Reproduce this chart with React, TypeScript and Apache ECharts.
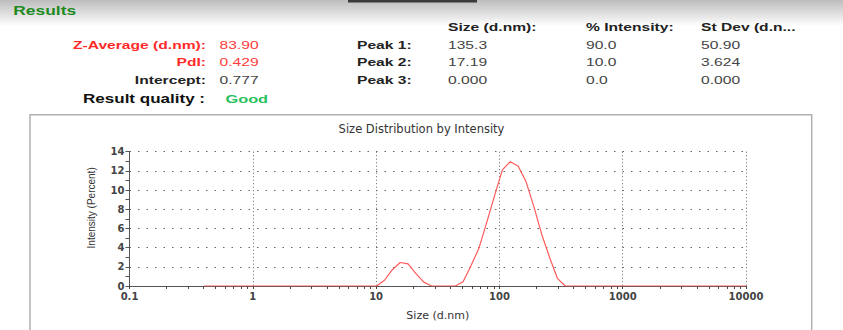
import React, { useEffect, useRef } from "react";
import * as echarts from "echarts";

// ---- Data ----
const sizes = [
  0.4, 0.4632, 0.5365, 0.6213, 0.7195, 0.8332, 0.9649, 1.117, 1.294, 1.499,
  1.736, 2.01, 2.328, 2.696, 3.122, 3.615, 4.187, 4.849, 5.615, 6.503,
  7.531, 8.721, 10.1, 11.7, 13.54, 15.69, 18.17, 21.04, 24.36, 28.21,
  32.67, 37.84, 43.82, 50.75, 58.77, 68.06, 78.82, 91.28, 105.7, 122.4,
  141.8, 164.2, 190.1, 220.2, 255.0, 295.3, 342.0, 396.1, 458.7, 531.2,
  615.1, 712.4, 825.0, 955.4, 1106, 1281, 1484, 1718, 1990, 2305,
  2669, 3091, 3580, 4145, 4801, 5560, 6439, 7456, 8635, 10000,
];
const intensities = [
  0, 0, 0, 0, 0, 0, 0, 0, 0, 0,
  0, 0, 0, 0, 0, 0, 0, 0, 0, 0,
  0, 0, 0, 0.6, 1.7, 2.45, 2.3, 1.3, 0.4, 0,
  0, 0, 0, 0.45, 2.1, 3.9, 6.6, 9.4, 12.1, 12.95,
  12.5, 10.9, 8.3, 5.4, 3.0, 0.8, 0, 0, 0, 0,
  0, 0, 0, 0, 0, 0, 0, 0, 0, 0,
  0, 0, 0, 0, 0, 0, 0, 0, 0, 0,
];
const xMinorTickValues = [
  0.1, 0.2, 0.3, 0.4, 0.5, 0.6, 0.7, 0.8, 0.9,
  1, 2, 3, 4, 5, 6, 7, 8, 9,
  10, 20, 30, 40, 50, 60, 70, 80, 90,
  100, 200, 300, 400, 500, 600, 700, 800, 900,
  1000, 2000, 3000, 4000, 5000, 6000, 7000, 8000, 9000, 10000,
];

const summaryLabels = ["Z-Average (d.nm):", "PdI:", "Intercept:"];
const summaryValues = ["83.90", "0.429", "0.777"];
const qualityLabel = "Result quality :";
const qualityValue = "Good";
const peakLabels = ["Peak 1:", "Peak 2:", "Peak 3:"];
const columnHeaders = ["Size (d.nm):", "% Intensity:", "St Dev (d.n..."];
const peakSizes = ["135.3", "17.19", "0.000"];
const peakIntensities = ["90.0", "10.0", "0.0"];
const peakStDevs = ["50.90", "3.624", "0.000"];

const SX = 1.42;
const HFONT = "'Liberation Sans', Arial, sans-serif";

function txt(text: string, x: number, y: number, opts: any = {}) {
  return {
    type: "text",
    x,
    y,
    scaleX: opts.scaleX ?? SX,
    style: {
      text,
      fill: opts.fill ?? "#333",
      font: `${opts.bold ? "bold " : ""}${opts.size ?? 11}px ${HFONT}`,
      textAlign: opts.align ?? "left",
      textVerticalAlign: "middle",
    },
    silent: true,
  };
}

export default function App() {
  const ref = useRef<HTMLDivElement>(null);
  useEffect(() => {
    if (!ref.current) return;
    const chart = echarts.init(ref.current, undefined, { renderer: "svg" });

    const rowsY = [45, 62, 80];
    const summaryColors = ["#ff2a2a", "#ff2a2a", "#222"];
    const valueColors = ["#ff3b3b", "#ff3b3b", "#444"];
    const graphics: any[] = [
      {
        type: "rect",
        shape: { x: 0, y: 0, width: 843, height: 26 },
        style: {
          fill: new echarts.graphic.LinearGradient(0, 0, 0, 1, [
            { offset: 0, color: "#bdbdbd" },
            { offset: 1, color: "#ffffff" },
          ]),
        },
        silent: true,
        z: -10,
      },
      {
        type: "rect",
        shape: { x: 348, y: 0, width: 129, height: 2.5 },
        style: { fill: "#3a3a3a" },
        silent: true,
      },
      {
        type: "rect",
        shape: { x: 30, y: 114.7, width: 781.7, height: 240 },
        style: { fill: "none", stroke: "#b0b0b0", lineWidth: 1.5 },
        silent: true,
        z: -5,
      },
      txt("Results", 13.3, 11, { bold: true, size: 12, fill: "#1f8a1f", scaleX: 1.45 }),
    ];
    summaryLabels.forEach((l, i) => {
      graphics.push(txt(l, 206, rowsY[i], { bold: true, align: "right", fill: summaryColors[i] }));
      graphics.push(txt(summaryValues[i], 219.5, rowsY[i], { fill: valueColors[i] }));
    });
    graphics.push(txt(qualityLabel, 205, 98.5, { bold: true, align: "right", fill: "#111", size: 12 }));
    graphics.push(txt(qualityValue, 225.5, 98.5, { bold: true, fill: "#27c25e", size: 11.5 }));
    peakLabels.forEach((l, i) => {
      graphics.push(txt(l, 357, rowsY[i], { bold: true, fill: "#222" }));
      graphics.push(txt(peakSizes[i], 448, rowsY[i], { fill: "#444" }));
      graphics.push(txt(peakIntensities[i], 586, rowsY[i], { fill: "#444" }));
      graphics.push(txt(peakStDevs[i], 701, rowsY[i], { fill: "#444" }));
    });
    const colX = [448, 586, 701];
    columnHeaders.forEach((h, i) => {
      graphics.push(txt(h, colX[i], 27.5, { bold: true, fill: "#222" }));
    });

    chart.setOption({
      animation: false,
      backgroundColor: "#fff",
      title: {
        text: "Size Distribution by Intensity",
        left: "center",
        top: 117.5,
        textStyle: {
          fontFamily: "DejaVu Sans",
          fontWeight: "normal",
          fontSize: 11.5,
          color: "#333",
        },
      },
      grid: {
        left: 129.5,
        right: 97,
        top: 151.7,
        bottom: 44,
        containLabel: false,
        outerBoundsMode: "none",
      },
      xAxis: [
        {
          type: "log",
          logBase: 10,
          min: 0.1,
          max: 10000,
          position: "bottom",
          name: "Size (d.nm)",
          nameLocation: "middle",
          nameGap: 24,
          nameTextStyle: {
            fontFamily: "DejaVu Sans",
            fontSize: 11,
            color: "#333",
          },
          axisLine: { show: true, lineStyle: { color: "#555", width: 1 } },
          axisTick: { show: false },
          axisLabel: {
            margin: 5,
            fontFamily: "DejaVu Sans",
            fontWeight: "bold",
            fontSize: 10,
            color: "#444",
            formatter: (v: number) => String(v),
          },
          splitLine: {
            show: true,
            lineStyle: { color: "#666", type: [1, 2.5], width: 1 },
          },
        },
        {
          type: "log",
          logBase: 10,
          min: 0.1,
          max: 10000,
          position: "bottom",
          offset: 0,
          axisLine: { show: false },
          axisTick: {
            show: true,
            length: 3,
            inside: false,
            customValues: xMinorTickValues,
            lineStyle: { color: "#444" },
          },
          axisLabel: { show: false },
          splitLine: { show: false },
        },
      ],
      yAxis: {
        type: "value",
        min: 0,
        max: 14,
        interval: 2,
        name: "Intensity (Percent)",
        nameLocation: "middle",
        nameGap: 33,
        nameRotate: 90,
        nameTextStyle: {
          fontFamily: "Liberation Sans",
          fontSize: 10,
          color: "#333",
          padding: [0, 0, 0, 22],
        },
        axisLine: { show: true, lineStyle: { color: "#555", width: 1 } },
        axisTick: { show: true, length: 4, lineStyle: { color: "#555" } },
        minorTick: { show: true, splitNumber: 2, length: 4, lineStyle: { color: "#555" } },
        axisLabel: {
          margin: 5,
          fontFamily: "DejaVu Sans",
          fontWeight: "bold",
          fontSize: 10,
          color: "#444",
        },
        splitLine: {
          show: true,
          lineStyle: { color: "#666", type: [1.5, 7], width: 1 },
        },
      },
      series: [
        {
          type: "line",
          xAxisIndex: 0,
          data: sizes.map((s, i) => [s, intensities[i]]),
          showSymbol: false,
          symbol: "none",
          lineStyle: { color: "#ff5a5a", width: 1.2 },
          z: 5,
        },
      ],
      graphic: graphics,
    });
    return () => chart.dispose();
  }, []);
  return (
    <div
      ref={ref}
      style={{ position: "absolute", left: 0, top: 0, width: 843, height: 330 }}
    />
  );
}
